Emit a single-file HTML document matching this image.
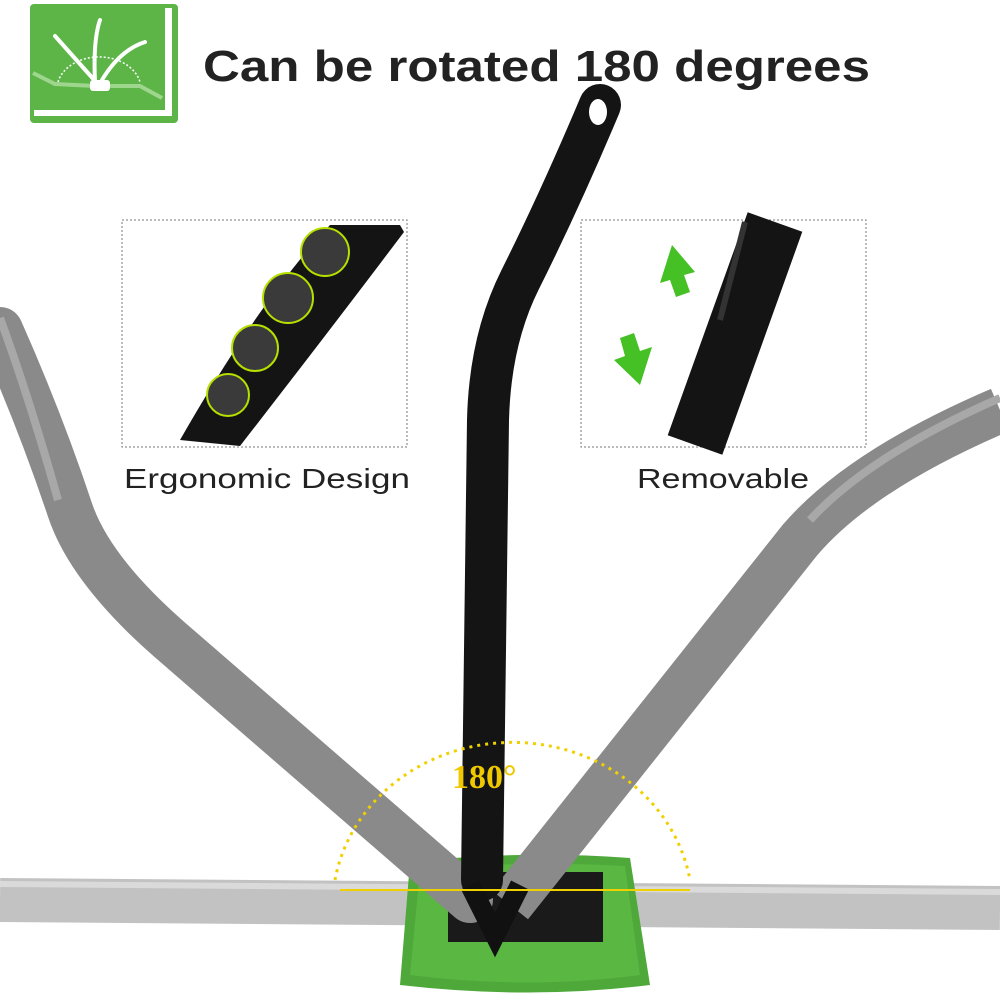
<!DOCTYPE html>
<html><head><meta charset="utf-8"><style>
html,body{margin:0;padding:0;background:#fff;width:1000px;height:1000px;overflow:hidden}
</style></head><body>
<svg width="1000" height="1000" viewBox="0 0 1000 1000" xmlns="http://www.w3.org/2000/svg">
<rect width="1000" height="1000" fill="#fff"/>
<!-- icon -->
<rect x="30" y="4" width="148" height="119" rx="4" fill="#5db548"/>
<path d="M165 8 V110 H34 V116 H172 V8 Z" fill="#fff"/>
<path d="M33 73 L55 84 L95 86 L140 86 L162 98" stroke="#9fd68e" stroke-width="4" fill="none"/>
<rect x="90" y="80" width="20" height="11" rx="3" fill="#fff"/>
<path d="M55 36 L96 82 M100 20 Q93 40 95 82 M145 42 Q120 50 102 80" stroke="#fff" stroke-width="4" fill="none" stroke-linecap="round"/>
<path d="M58 82 A42 32 0 0 1 140 82" stroke="#fff" stroke-width="1.5" stroke-dasharray="2 2" fill="none"/>
<text x="203" y="81" font-family="Liberation Sans, sans-serif" font-weight="bold" font-size="44" fill="#222" textLength="667" lengthAdjust="spacingAndGlyphs">Can be rotated 180 degrees</text>

<!-- horizontal gray pole -->
<path d="M0 900 L1000 908" stroke="#c2c2c2" stroke-width="44" fill="none"/>
<path d="M0 884 L1000 892" stroke="#dadada" stroke-width="6" fill="none"/>
<!-- green pad -->
<path d="M410 862 Q520 850 630 858 L650 985 Q530 1000 400 985 Z" fill="#4ea83a"/>
<path d="M420 870 Q520 860 625 866 L640 975 Q530 990 410 975 Z" fill="#5cba45" opacity="0.8"/>
<rect x="448" y="872" width="155" height="70" fill="#1a1a1a"/>
<!-- left gray pole -->
<path d="M0 330 Q40 420 70 510 Q90 570 170 640 L470 900" stroke="#8a8a8a" stroke-width="46" fill="none" stroke-linecap="round"/>
<path d="M0 318 Q30 400 58 500" stroke="#a8a8a8" stroke-width="8" fill="none"/>
<!-- right gray pole -->
<path d="M1000 410 Q860 470 800 540 L510 905" stroke="#8a8a8a" stroke-width="46" fill="none"/>
<path d="M1000 398 Q870 455 810 520" stroke="#a8a8a8" stroke-width="8" fill="none"/>
<!-- black pole -->
<path d="M600 105 Q560 200 520 280 Q490 340 488 420 L482 880" stroke="#141414" stroke-width="42" fill="none" stroke-linecap="round"/>
<ellipse cx="598" cy="112" rx="9" ry="13" fill="#fff"/>
<path d="M470 885 L495 935 L520 885" stroke="#111" stroke-width="20" fill="none"/>
<!-- yellow arc -->
<path d="M335 880 A180 165 0 0 1 690 880" stroke="#f0d000" stroke-width="3" stroke-dasharray="3 5" fill="none"/>
<path d="M340 890 L690 890" stroke="#f0d000" stroke-width="2"/>
<text x="452" y="788" font-family="Liberation Serif, serif" font-weight="bold" font-size="34" fill="#f0c800">180°</text>

<!-- insets -->
<rect x="122" y="220" width="285" height="227" fill="#fff" stroke="#777" stroke-dasharray="2 2"/>
<path d="M400 225 L330 225 Q260 300 180 440 L240 446 Q330 330 404 232 Z" fill="#141414"/>
<g fill="#3a3a3a" stroke="#b5e000" stroke-width="2">
<circle cx="325" cy="252" r="24"/><circle cx="288" cy="298" r="25"/><circle cx="255" cy="348" r="23"/><circle cx="228" cy="395" r="21"/>
</g>
<rect x="581" y="220" width="285" height="227" fill="#fff" stroke="#777" stroke-dasharray="2 2"/>
<path d="M775 222 L695 445" stroke="#141414" stroke-width="58"/>
<path d="M745 222 L720 320" stroke="#333" stroke-width="6"/>
<path d="M672 245 L695 272 L684 275 L690 292 L676 297 L670 280 L660 283 Z" fill="#45c025"/>
<path d="M640 385 L614 360 L625 356 L620 338 L634 333 L640 351 L652 347 Z" fill="#45c025"/>
<text x="124" y="488" font-family="Liberation Sans, sans-serif" font-size="28" fill="#222" textLength="286" lengthAdjust="spacingAndGlyphs">Ergonomic Design</text>
<text x="637" y="488" font-family="Liberation Sans, sans-serif" font-size="28" fill="#222" textLength="172" lengthAdjust="spacingAndGlyphs">Removable</text>
</svg>
</body></html>
